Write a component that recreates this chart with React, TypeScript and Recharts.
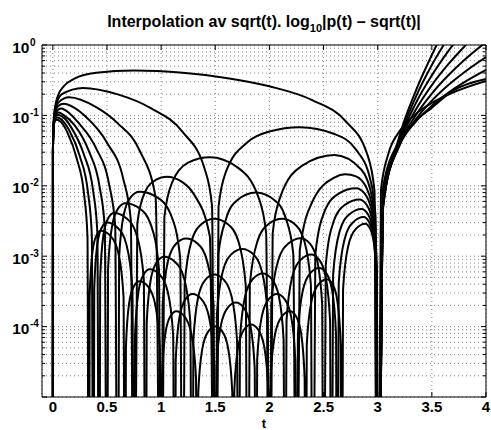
import React from 'react';
import { LineChart, Line, XAxis, YAxis, CartesianGrid, ReferenceLine } from 'recharts';

// interpolation error |p(t) - sqrt(t)| for n = 1..9 equispaced nodes on [0, 3]
// Z marks an interpolation node (error is zero there), kept below the log axis
const Z = 1e-9;

const xTicks = [0, 0.5, 1, 1.5, 2, 2.5, 3, 3.5, 4];
const yDecades = [1e-5, 1e-4, 1e-3, 1e-2, 1e-1, 1];
const yExponents = ['-5', '-4', '-3', '-2', '-1', '0'];
const yMinor = [
  2e-5, 3e-5, 4e-5, 5e-5, 6e-5, 7e-5, 8e-5, 9e-5,
  2e-4, 3e-4, 4e-4, 5e-4, 6e-4, 7e-4, 8e-4, 9e-4,
  2e-3, 3e-3, 4e-3, 5e-3, 6e-3, 7e-3, 8e-3, 9e-3,
  2e-2, 3e-2, 4e-2, 5e-2, 6e-2, 7e-2, 8e-2, 9e-2,
  0.2, 0.3, 0.4, 0.5, 0.6, 0.7, 0.8, 0.9,
];

const err1 = [
  [0, Z], [0.001, 0.031], [0.005, 0.068], [0.02, 0.13], [0.05, 0.195], [0.1, 0.259], [0.2, 0.332],
  [0.4, 0.402], [0.75, 0.433], [1.2, 0.403], [1.6, 0.341], [2, 0.259], [2.4, 0.164], [2.7, 0.084],
  [2.9, 0.029], [2.97, 0.0086], [3, Z], [3.03, 0.0087], [3.1, 0.029], [3.2, 0.059], [3.35, 0.104],
  [3.5, 0.15], [3.7, 0.213], [4, 0.309],
];

const err2 = [
  [0, Z], [0.001, 0.0306], [0.005, 0.0654], [0.02, 0.12], [0.08, 0.199], [0.28, 0.246], [0.6, 0.199],
  [0.9, 0.128], [1.2, 0.058], [1.4, 0.0178], [1.47, 0.0052], [1.5, Z],
  [1.53, 0.005], [1.6, 0.016], [1.8, 0.042], [2, 0.059], [2.28, 0.068], [2.6, 0.0545], [2.8, 0.0326],
  [2.93, 0.0126], [2.98, 0.0037], [3, Z],
  [3.05, 0.0097], [3.2, 0.043], [3.35, 0.083], [3.5, 0.129], [3.7, 0.226], [4, 0.328],
];

const err3 = [
  [0, Z], [0.001, 0.03], [0.005, 0.063], [0.02, 0.113], [0.05, 0.152], [0.15, 0.181], [0.4, 0.131],
  [0.6, 0.077], [0.8, 0.032], [0.95, 0.0067], [1, Z],
  [1.03, 0.0036], [1.1, 0.011], [1.25, 0.0213], [1.45, 0.0254], [1.7, 0.0185], [1.9, 0.0068], [1.97, 0.0021], [2, Z],
  [2.03, 0.0021], [2.1, 0.0069], [2.3, 0.0192], [2.6, 0.0273], [2.85, 0.0169], [2.95, 0.0066], [2.98, 0.0025], [3, Z],
  [3.05, 0.0078], [3.2, 0.038], [3.35, 0.081], [3.5, 0.137], [3.7, 0.236], [4, 0.443],
];

const err4 = [
  [0, Z], [0.001, 0.0298], [0.003, 0.049], [0.01, 0.082], [0.03, 0.12], [0.05, 0.136], [0.1, 0.146],
  [0.2, 0.128], [0.3, 0.097], [0.5, 0.041], [0.65, 0.0126], [0.72, 0.0033], [0.75, Z],
  [0.78, 0.0029], [0.85, 0.0081], [0.95, 0.0121], [1.05, 0.0134], [1.2, 0.0112], [1.3, 0.0077], [1.45, 0.0019], [1.5, Z],
  [1.53, 0.0011], [1.6, 0.0034], [1.7, 0.0062], [1.875, 0.008], [2.05, 0.0062], [2.15, 0.0035], [2.22, 0.0011], [2.25, Z],
  [2.28, 0.0012], [2.4, 0.0061], [2.6, 0.0131], [2.7, 0.0146], [2.8, 0.0136], [2.9, 0.0091], [2.97, 0.0033], [3, Z],
  [3.05, 0.0067], [3.2, 0.037], [3.35, 0.087], [3.5, 0.162], [3.65, 0.268], [3.8, 0.411], [4, 0.674],
];

const err5 = [
  [0, Z], [0.001, 0.0296], [0.003, 0.049], [0.01, 0.079], [0.03, 0.111], [0.075, 0.125], [0.16, 0.105],
  [0.24, 0.0775], [0.4, 0.034], [0.52, 0.0104], [0.576, 0.0027], [0.6, Z],
  [0.612, 0.00095], [0.656, 0.00395], [0.72, 0.0069], [0.8, 0.0082], [0.96, 0.0069], [1.088, 0.00395], [1.176, 0.00095], [1.2, Z],
  [1.217, 0.00039], [1.281, 0.00164], [1.374, 0.00286], [1.49, 0.0034], [1.614, 0.00286], [1.713, 0.00164], [1.781, 0.00039], [1.8, Z],
  [1.819, 0.00039], [1.89, 0.00164], [1.992, 0.00286], [2.12, 0.0034], [2.232, 0.00286], [2.322, 0.00164], [2.383, 0.00039], [2.4, Z],
  [2.424, 0.00107], [2.512, 0.00443], [2.64, 0.00773], [2.8, 0.0092], [2.88, 0.00773], [2.944, 0.00443], [2.988, 0.00107], [3, Z],
  [3.05, 0.0059], [3.2, 0.038], [3.35, 0.0995], [3.5, 0.204], [3.65, 0.368], [3.8, 0.612], [4, 1.1],
];

const err6 = [
  [0, Z], [0.001, 0.0295], [0.003, 0.048], [0.01, 0.078], [0.03, 0.103], [0.055, 0.11], [0.1, 0.101],
  [0.2, 0.073], [0.333, 0.031], [0.433, 0.0095], [0.48, 0.0025], [0.5, Z],
  [0.51, 0.00066], [0.548, 0.00272], [0.602, 0.00475], [0.67, 0.00565], [0.802, 0.00475], [0.908, 0.00272], [0.98, 0.00066], [1, Z],
  [1.014, 0.000206], [1.064, 0.000858], [1.138, 0.0015], [1.23, 0.00178], [1.338, 0.0015], [1.424, 0.000858], [1.484, 0.000206], [1.5, Z],
  [1.515, 0.000147], [1.57, 0.000612], [1.65, 0.00107], [1.75, 0.00127], [1.85, 0.00107], [1.93, 0.000612], [1.985, 0.000147], [2, Z],
  [2.017, 0.000209], [2.081, 0.000868], [2.174, 0.00151], [2.29, 0.0018], [2.374, 0.00151], [2.441, 0.000868], [2.487, 0.000209], [2.5, Z],
  [2.52, 0.00074], [2.592, 0.00308], [2.698, 0.00538], [2.83, 0.0064], [2.898, 0.00538], [2.952, 0.00308], [2.99, 0.00074], [3, Z],
  [3.05, 0.0056], [3.2, 0.0404], [3.35, 0.119], [3.5, 0.269], [3.65, 0.529], [3.8, 0.953], [3.85, 1.16],
];

const err7 = [
  [0, Z], [0.001, 0.0295], [0.003, 0.048], [0.01, 0.076], [0.025, 0.096], [0.047, 0.101], [0.116, 0.088],
  [0.171, 0.067], [0.286, 0.028], [0.371, 0.0087], [0.411, 0.0022], [0.4286, Z],
  [0.437, 0.000476], [0.467, 0.00198], [0.51, 0.00344], [0.565, 0.0041], [0.682, 0.00344], [0.775, 0.00198], [0.84, 0.000476], [0.8571, Z],
  [0.867, 0.000114], [0.905, 0.000472], [0.96, 0.000823], [1.028, 0.00098], [1.131, 0.000823], [1.214, 0.000472], [1.27, 0.000114], [1.2857, Z],
  [1.298, 0.000064], [1.343, 0.000265], [1.408, 0.000462], [1.49, 0.00055], [1.58, 0.000462], [1.651, 0.000265], [1.701, 0.000064], [1.7143, Z],
  [1.728, 0.000066], [1.777, 0.000275], [1.849, 0.000479], [1.938, 0.00057], [2.02, 0.000479], [2.086, 0.000275], [2.131, 0.000066], [2.1429, Z],
  [2.158, 0.000123], [2.211, 0.000511], [2.289, 0.00089], [2.386, 0.00106], [2.46, 0.00089], [2.519, 0.000511], [2.56, 0.000123], [2.5714, Z],
  [2.588, 0.000545], [2.649, 0.00227], [2.739, 0.00395], [2.85, 0.0047], [2.91, 0.00395], [2.958, 0.00227], [2.991, 0.000545], [3, Z],
  [3.05, 0.0053], [3.2, 0.043], [3.35, 0.147], [3.5, 0.37], [3.65, 0.81], [3.75, 1.3],
];

const err8 = [
  [0, Z], [0.001, 0.0295], [0.003, 0.047], [0.01, 0.075], [0.022, 0.089], [0.042, 0.093], [0.1, 0.081],
  [0.15, 0.062], [0.25, 0.026], [0.325, 0.008], [0.36, 0.002], [0.375, Z],
  [0.3825, 0.000348], [0.41, 0.00145], [0.45, 0.00252], [0.5, 0.003], [0.6, 0.00252], [0.68, 0.00145], [0.735, 0.000348], [0.75, Z],
  [0.759, 0.000075], [0.791, 0.000313], [0.837, 0.000546], [0.895, 0.00065], [0.987, 0.000546], [1.061, 0.000313], [1.111, 0.000075], [1.125, Z],
  [1.135, 0.000034], [1.171, 0.00014], [1.224, 0.000244], [1.29, 0.00029], [1.374, 0.000244], [1.441, 0.00014], [1.487, 0.000034], [1.5, Z],
  [1.511, 0.000026], [1.553, 0.000106], [1.614, 0.000185], [1.69, 0.00022], [1.764, 0.000185], [1.823, 0.000106], [1.864, 0.000026], [1.875, Z],
  [1.887, 0.000034], [1.93, 0.00014], [1.992, 0.000244], [2.07, 0.00029], [2.142, 0.000244], [2.2, 0.00014], [2.239, 0.000034], [2.25, Z],
  [2.263, 0.000079], [2.309, 0.000328], [2.376, 0.000571], [2.46, 0.00068], [2.526, 0.000571], [2.579, 0.000328], [2.615, 0.000079], [2.625, Z],
  [2.64, 0.000418], [2.694, 0.00174], [2.772, 0.00302], [2.87, 0.0036], [2.922, 0.00302], [2.964, 0.00174], [2.992, 0.000418], [3, Z],
  [3.05, 0.0051], [3.2, 0.046], [3.35, 0.18], [3.5, 0.52], [3.6, 0.95], [3.7, 1.7],
];

const err9 = [
  [0, Z], [0.001, 0.0295], [0.003, 0.047], [0.01, 0.073], [0.02, 0.084], [0.037, 0.087], [0.09, 0.076],
  [0.133, 0.058], [0.222, 0.024], [0.289, 0.0075], [0.32, 0.0019], [0.3333, Z],
  [0.34, 0.000267], [0.365, 0.00111], [0.4, 0.00193], [0.445, 0.0023], [0.534, 0.00193], [0.605, 0.00111], [0.653, 0.000267], [0.6667, Z],
  [0.675, 0.000051], [0.704, 0.000212], [0.747, 0.00037], [0.8, 0.00044], [0.88, 0.00037], [0.944, 0.000212], [0.988, 0.000051], [1, Z],
  [1.008, 0.000019], [1.039, 0.0000795], [1.084, 0.000139], [1.14, 0.000165], [1.217, 0.000139], [1.279, 0.0000795], [1.322, 0.000019], [1.3333, Z],
  [1.343, 0.0000116], [1.38, 0.000048], [1.433, 0.000084], [1.5, 0.0001], [1.567, 0.000084], [1.62, 0.000048], [1.657, 0.0000116], [1.6667, Z],
  [1.676, 0.0000124], [1.712, 0.000052], [1.765, 0.00009], [1.83, 0.000107], [1.898, 0.00009], [1.952, 0.000052], [1.99, 0.0000124], [2, Z],
  [2.011, 0.000019], [2.053, 0.0000795], [2.114, 0.000139], [2.19, 0.000165], [2.247, 0.000139], [2.293, 0.0000795], [2.325, 0.000019], [2.3333, Z],
  [2.345, 0.000055], [2.388, 0.000227], [2.451, 0.000395], [2.53, 0.00047], [2.585, 0.000395], [2.628, 0.000227], [2.659, 0.000055], [2.6667, Z],
  [2.68, 0.000336], [2.728, 0.0014], [2.798, 0.00244], [2.885, 0.0029], [2.931, 0.00244], [2.968, 0.0014], [2.993, 0.000336], [3, Z],
  [3.05, 0.0049], [3.2, 0.05], [3.35, 0.22], [3.5, 0.72], [3.6, 1.5],
];

const curves = [err1, err2, err3, err4, err5, err6, err7, err8, err9].map((c) =>
  c.map(([t, e]) => ({ t, e }))
);

const FONT = '"Liberation Sans", Arial, Helvetica, sans-serif';
const PLOT = { left: 42, right: 486, top: 45, bottom: 397 };

const XTick = ({ x, payload }: any) => (
  <g>
    <line x1={x} x2={x} y1={PLOT.bottom} y2={PLOT.bottom - 5} stroke="#000" />
    <line x1={x} x2={x} y1={PLOT.top} y2={PLOT.top + 5} stroke="#000" />
    <text x={x} y={412} textAnchor="middle" fontFamily={FONT} fontWeight="bold" fontSize={15} fill="#000">
      {String(payload.value)}
    </text>
  </g>
);

const YTick = ({ y, payload }: any) => {
  const i = yDecades.indexOf(payload.value);
  const len = i >= 0 ? 5 : 3;
  return (
    <g>
      <line x1={PLOT.left} x2={PLOT.left + len} y1={y} y2={y} stroke="#000" />
      <line x1={PLOT.right} x2={PLOT.right - len} y1={y} y2={y} stroke="#000" />
      {i > 0 && (
        <g fontFamily={FONT} fontWeight="bold" fill="#000">
          <text x={29.5} y={y + 7.5} textAnchor="end" fontSize={15.5}>10</text>
          <text x={30} y={y + 0.5} fontSize={10}>{yExponents[i]}</text>
        </g>
      )}
    </g>
  );
};

export default function App() {
  return (
    <div style={{ position: 'absolute', left: 0, top: 0, width: 491, height: 430, background: '#fff' }}>
      <LineChart width={491} height={430} margin={{ top: PLOT.top, right: 491 - PLOT.right, bottom: 0, left: 0 }}>
        <CartesianGrid stroke="#666" strokeDasharray="1 3" strokeWidth={0.8} />
        <XAxis
          dataKey="t"
          type="number"
          domain={[-0.1, 4]}
          ticks={xTicks}
          interval={0}
          allowDataOverflow
          tick={(p: any) => <XTick {...p} />}
          tickLine={false}
          axisLine={{ stroke: '#000' }}
          height={430 - PLOT.bottom}
        />
        <YAxis
          type="number"
          scale="log"
          domain={[1e-5, 1]}
          ticks={[...yDecades, ...yMinor]}
          interval={0}
          allowDataOverflow
          tick={(p: any) => <YTick {...p} />}
          tickLine={false}
          axisLine={{ stroke: '#000' }}
          width={PLOT.left}
        />
        <ReferenceLine y={1} stroke="#000" />
        <ReferenceLine x={4} stroke="#000" />
        {curves.map((c, i) => (
          <Line
            key={i}
            data={c}
            dataKey="e"
            type="monotone"
            stroke="#000"
            strokeWidth={2}
            dot={false}
            activeDot={false}
            isAnimationActive={false}
          />
        ))}
      </LineChart>
      <svg
        width={491}
        height={430}
        style={{ position: 'absolute', left: 0, top: 0, pointerEvents: 'none' }}
        fontFamily={FONT}
        fontWeight="bold"
      >
        <text x={264} y={26.5} textAnchor="middle" fontSize={16} fill="#000">
          Interpolation av sqrt(t). log
          <tspan fontSize={11} dy={5}>10</tspan>
          <tspan dy={-5}>|p(t) – sqrt(t)|</tspan>
        </text>
        <text x={264} y={428} textAnchor="middle" fontSize={13} fill="#000">t</text>
      </svg>
    </div>
  );
}
